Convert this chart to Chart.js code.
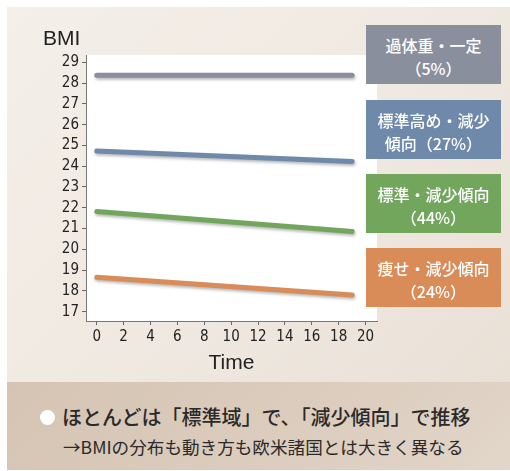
<!DOCTYPE html>
<html lang="ja">
<head>
<meta charset="utf-8">
<title>BMI推移</title>
<script src="https://cdn.jsdelivr.net/npm/chart.js@4.4.1/dist/chart.umd.min.js"></script>
<style>
  body { margin: 0; background: #fff; width: 510px; height: 471px; position: relative; overflow: hidden; }
  .panel { position: absolute; left: 7px; top: 7px; width: 503px; height: 375px;
    background: linear-gradient(135deg, #f4efe9 0%, #efe8e0 60%, #e9e0d6 100%); }
  .band { position: absolute; left: 7px; top: 382px; width: 503px; height: 88px;
    background: linear-gradient(135deg, #d5c4b3 0%, #dccdbe 60%, #e2d6ca 100%); }
  #wrap { position: absolute; left: 0; top: 0; width: 510px; height: 380px; }
  .ylab { position: absolute; left: 43px; top: 26px; font: 21px "Liberation Sans", Arial, sans-serif; color: #222; }
  .tag { position: absolute; left: 366px; width: 135px; height: 55px; padding-top: 4px; color: #fff;
    font: 500 16px/23px "Noto Sans CJK JP", sans-serif; text-align: center;
    display: flex; flex-direction: column; justify-content: center; }
  .lead { position: absolute; left: 40px; top: 402px; font: 500 20px "Noto Sans CJK JP", sans-serif; color: #2a2a2a; white-space: nowrap; }
  .lead .dot { display: inline-block; width: 15px; height: 15px; border-radius: 50%; background: #fff; margin-right: 7px; vertical-align: 0px; }
  .sub { position: absolute; left: 63px; top: 434px; font: 17.6px "Noto Sans CJK JP", sans-serif; color: #2a2a2a; white-space: nowrap; }
</style>
</head>
<body>
<div class="panel"></div>
<div class="band"></div>
<div id="wrap"><canvas id="bmiChart" width="510" height="380"></canvas></div>
<div class="ylab">BMI</div>
<div id="tags"></div>
<div class="lead"><span class="dot"></span>ほとんどは「標準域」で、「減少傾向」で推移</div>
<div class="sub">→BMIの分布も動き方も欧米諸国とは大きく異なる</div>
<script>
// time points and BMI trajectories per group
const time = [0, 19];
const overweight = [28.38, 28.38];
const highNormal = [24.73, 24.23];
const normal = [21.82, 20.86];
const thin = [18.65, 17.8];

const groupNames = ['過体重・一定', '標準高め・減少傾向', '標準・減少傾向', '痩せ・減少傾向'];
const groupShares = ['（5%）', '（27%）', '（44%）', '（24%）'];
const groupColors = ['#8a8f9e', '#6f89aa', '#72a65d', '#d98b58'];

const xTicks = [0, 2, 4, 6, 8, 10, 12, 14, 16, 18, 20];
const yTicks = [17, 18, 19, 20, 21, 22, 23, 24, 25, 26, 27, 28, 29];

// side tags
const tagLines = [
  [groupNames[0], groupShares[0]],
  ['標準高め・減少', '傾向' + groupShares[1]],
  [groupNames[2], groupShares[2]],
  [groupNames[3], groupShares[3]]
];
const tagTops = [25, 100, 174, 248];
const tags = document.getElementById('tags');
tagLines.forEach((lines, i) => {
  const d = document.createElement('div');
  d.className = 'tag';
  d.style.top = tagTops[i] + 'px';
  d.style.background = groupColors[i];
  d.innerHTML = lines.map(t => '<div>' + t + '</div>').join('');
  tags.appendChild(d);
});

const series = [overweight, highNormal, normal, thin];
const datasets = series.map((vals, i) => ({
  label: groupNames[i],
  data: time.map((t, k) => ({ x: t, y: vals[k] })),
  borderColor: groupColors[i],
  borderWidth: 5,
  borderCapStyle: 'round',
  pointRadius: 0,
  tension: 0
}));

// white plot area + soft shadow under the lines
const plotBg = {
  id: 'plotBg',
  beforeDraw(chart) {
    const { ctx, chartArea: a } = chart;
    ctx.save();
    ctx.fillStyle = '#fff';
    ctx.fillRect(a.left, a.top, a.right - a.left, a.bottom - a.top);
    ctx.restore();
  },
  beforeDatasetsDraw(chart) {
    const ctx = chart.ctx;
    ctx.save();
    ctx.shadowColor = 'rgba(0,0,0,0.28)';
    ctx.shadowBlur = 3;
    ctx.shadowOffsetX = 1;
    ctx.shadowOffsetY = 2;
  },
  afterDatasetsDraw(chart) {
    chart.ctx.restore();
  }
};

const tickFont = { family: '"Liberation Sans Narrow", "DejaVu Sans Condensed", sans-serif', size: 15 };

new Chart(document.getElementById('bmiChart'), {
  type: 'line',
  data: { datasets },
  options: {
    responsive: false,
    animation: false,
    layout: { padding: { left: 0, right: 133, top: 55, bottom: 0 } },
    plugins: { legend: { display: false }, tooltip: { enabled: false } },
    scales: {
      x: {
        type: 'linear',
        min: -0.8,
        max: 20.85,
        afterBuildTicks: axis => { axis.ticks = xTicks.map(v => ({ value: v })); },
        afterFit: axis => { axis.height = 59; },
        grid: { drawOnChartArea: false, tickLength: 4, color: '#666' },
        border: { color: '#777', width: 1 },
        ticks: { color: '#222', font: tickFont, padding: 3, maxRotation: 0 },
        title: { display: true, text: 'Time', color: '#222', font: { family: '"Liberation Sans", Arial, sans-serif', size: 21 }, padding: { top: 2 } }
      },
      y: {
        min: 16.55,
        max: 29.35,
        afterBuildTicks: axis => { axis.ticks = yTicks.map(v => ({ value: v })); },
        afterFit: axis => { axis.width = 86; },
        grid: { drawOnChartArea: false, tickLength: 4, color: '#666' },
        border: { color: '#777', width: 1 },
        ticks: { color: '#222', font: tickFont, padding: 3 }
      }
    }
  },
  plugins: [plotBg]
});
</script>
</body>
</html>
